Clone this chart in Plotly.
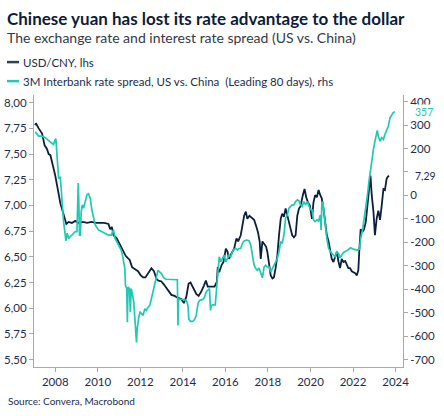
import plotly.graph_objects as go

# USD/CNY (lhs) - x in decimal years
usd_x = [2007.06, 2007.09, 2007.22, 2007.38, 2007.5, 2007.61, 2007.69, 2007.77, 2007.85, 2007.92,
         2008.0, 2008.08, 2008.16, 2008.24, 2008.31, 2008.39, 2008.47, 2008.52, 2008.63, 2008.78,
         2008.94, 2009.1, 2009.3, 2009.5, 2009.7, 2009.9, 2010.1, 2010.3, 2010.5, 2010.58,
         2010.66, 2010.74, 2010.89, 2010.99, 2011.1, 2011.2, 2011.31, 2011.4, 2011.5, 2011.61,
         2011.74, 2011.89, 2012.02, 2012.13, 2012.24, 2012.36, 2012.52, 2012.64, 2012.75, 2012.83,
         2012.99, 2013.11, 2013.22, 2013.33, 2013.46, 2013.61, 2013.77, 2013.92, 2014.05, 2014.16,
         2014.27, 2014.36, 2014.47, 2014.63, 2014.74, 2014.86, 2014.99, 2015.08, 2015.17, 2015.3,
         2015.49, 2015.6, 2015.64, 2015.71, 2015.82, 2015.91, 2016.02, 2016.1, 2016.17, 2016.28,
         2016.41, 2016.52, 2016.6, 2016.72, 2016.8, 2016.88, 2016.96, 2017.03, 2017.13, 2017.24,
         2017.35, 2017.46, 2017.53, 2017.61, 2017.66, 2017.74, 2017.82, 2017.91, 2017.97, 2018.05,
         2018.13, 2018.21, 2018.28, 2018.36, 2018.44, 2018.52, 2018.6, 2018.67, 2018.75, 2018.83,
         2018.91, 2018.99, 2019.07, 2019.14, 2019.22, 2019.3, 2019.38, 2019.46, 2019.53, 2019.64,
         2019.72, 2019.8, 2019.88, 2019.97, 2020.07, 2020.14, 2020.22, 2020.3, 2020.38, 2020.46,
         2020.53, 2020.61, 2020.69, 2020.77, 2020.85, 2020.93, 2021.0, 2021.08, 2021.16, 2021.24,
         2021.32, 2021.39, 2021.47, 2021.55, 2021.63, 2021.71, 2021.78, 2021.86, 2021.94, 2022.02,
         2022.1, 2022.18, 2022.25, 2022.3, 2022.36, 2022.44, 2022.52, 2022.6, 2022.68, 2022.77,
         2022.82, 2022.88, 2022.96, 2023.03, 2023.11, 2023.19, 2023.27, 2023.35, 2023.43, 2023.5,
         2023.58, 2023.64, 2023.69]
usd_cny = [7.78, 7.80, 7.75, 7.70, 7.585, 7.55, 7.50, 7.49, 7.42, 7.37,
           7.29, 7.20, 7.10, 7.02, 6.97, 6.92, 6.86, 6.82, 6.84, 6.83,
           6.85, 6.83, 6.84, 6.83, 6.84, 6.83, 6.83, 6.83, 6.82, 6.77,
           6.79, 6.71, 6.68, 6.64, 6.60, 6.56, 6.51, 6.49, 6.47, 6.40,
           6.38, 6.36, 6.32, 6.30, 6.30, 6.34, 6.39, 6.36, 6.29, 6.27,
           6.26, 6.23, 6.20, 6.16, 6.13, 6.12, 6.10, 6.09, 6.05, 6.11,
           6.24, 6.25, 6.21, 6.14, 6.12, 6.16, 6.22, 6.27, 6.21, 6.21,
           6.21, 6.26, 6.40, 6.35, 6.42, 6.45, 6.58, 6.55, 6.48, 6.53,
           6.58, 6.68, 6.65, 6.71, 6.79, 6.90, 6.94, 6.87, 6.90, 6.88,
           6.86, 6.79, 6.74, 6.65, 6.48, 6.65, 6.63, 6.60, 6.55, 6.45,
           6.32, 6.29, 6.30, 6.39, 6.51, 6.71, 6.87, 6.92, 6.89, 6.97,
           6.91, 6.84, 6.77, 6.71, 6.69, 6.71, 6.90, 6.97, 6.99, 7.10,
           7.16, 7.08, 7.03, 7.00, 6.87, 7.03, 7.10, 7.08, 7.15, 7.10,
           7.07, 6.97, 6.84, 6.71, 6.65, 6.56, 6.48, 6.45, 6.51, 6.55,
           6.45, 6.39, 6.48, 6.45, 6.46, 6.43, 6.39, 6.39, 6.36, 6.35,
           6.34, 6.32, 6.37, 6.58, 6.77, 6.74, 6.77, 6.84, 7.03, 7.23,
           7.29, 7.10, 6.94, 6.71, 6.87, 6.95, 6.86, 7.00, 7.16, 7.15,
           7.26, 7.28, 7.29]

# 3M interbank spread US vs China, leading 80 days (rhs), bp
spr_x = [2007.06, 2007.14, 2007.22, 2007.38, 2007.53, 2007.69, 2007.81, 2007.92, 2008.0, 2008.03,
         2008.1, 2008.16, 2008.24, 2008.28, 2008.35, 2008.39, 2008.44, 2008.5, 2008.56, 2008.63,
         2008.7, 2008.78, 2008.86, 2008.94, 2009.02, 2009.05, 2009.08, 2009.11, 2009.14, 2009.18,
         2009.22, 2009.27, 2009.33, 2009.41, 2009.49, 2009.56, 2009.64, 2009.72, 2009.8, 2009.88,
         2010.03, 2010.19, 2010.35, 2010.5, 2010.63, 2010.74, 2010.81, 2010.89, 2011.0, 2011.1,
         2011.16, 2011.22, 2011.27, 2011.3, 2011.36, 2011.39, 2011.42, 2011.49, 2011.53, 2011.57,
         2011.61, 2011.69, 2011.74, 2011.78, 2011.82, 2011.85, 2011.89, 2011.94, 2011.99, 2012.05,
         2012.13, 2012.21, 2012.28, 2012.36, 2012.44, 2012.52, 2012.6, 2012.67, 2012.75, 2012.83,
         2012.91, 2012.99, 2013.07, 2013.14, 2013.22, 2013.38, 2013.53, 2013.74, 2013.77, 2013.8,
         2013.85, 2014.0, 2014.16, 2014.24, 2014.28, 2014.35, 2014.47, 2014.55, 2014.63, 2014.71,
         2014.78, 2014.94, 2015.02, 2015.1, 2015.17, 2015.25, 2015.3, 2015.33, 2015.41, 2015.52,
         2015.56, 2015.64, 2015.71, 2015.78, 2015.86, 2015.94, 2016.02, 2016.1, 2016.17, 2016.25,
         2016.33, 2016.41, 2016.49, 2016.57, 2016.64, 2016.72, 2016.8, 2016.88, 2016.99, 2017.11,
         2017.19, 2017.27, 2017.35, 2017.43, 2017.5, 2017.58, 2017.66, 2017.74, 2017.82, 2017.89,
         2017.97, 2018.05, 2018.13, 2018.21, 2018.28, 2018.36, 2018.44, 2018.52, 2018.6, 2018.67,
         2018.75, 2018.83, 2018.91, 2018.99, 2019.07, 2019.14, 2019.22, 2019.3, 2019.38, 2019.46,
         2019.53, 2019.61, 2019.69, 2019.77, 2019.85, 2019.92, 2020.0, 2020.07, 2020.14, 2020.22,
         2020.3, 2020.38, 2020.46, 2020.5, 2020.53, 2020.58, 2020.64, 2020.69, 2020.77, 2020.85,
         2020.93, 2021.0, 2021.08, 2021.16, 2021.24, 2021.32, 2021.39, 2021.47, 2021.55, 2021.68,
         2021.78, 2021.89, 2022.02, 2022.18, 2022.3, 2022.36, 2022.46, 2022.53, 2022.6, 2022.68,
         2022.75, 2022.83, 2022.89, 2022.96, 2023.03, 2023.1, 2023.14, 2023.19, 2023.27, 2023.35,
         2023.43, 2023.5, 2023.58, 2023.66, 2023.74, 2023.82, 2023.89, 2023.97]
spread = [271, 263, 253, 253, 246, 234, 224, 217, 239, 241,
          146, 74, 77, 17, -40, -111, -147, -194, -161, -183,
          -176, -169, -161, -154, -154, -40, 53, -40, -169, -169,
          -69, -40, -54, -26, 3, 7, -11, -61, -90, -126,
          -147, -154, -161, -169, -169, -147, -183, -197, -219, -233,
          -254, -283, -311, -383, -397, -540, -390, -397, -497, -397,
          -411, -454, -511, -569, -626, -569, -540, -511, -497, -504,
          -511, -483, -490, -476, -469, -440, -411, -383, -347, -319,
          -326, -333, -347, -354, -357, -357, -359, -359, -554, -440,
          -443, -443, -447, -469, -526, -537, -537, -529, -511, -461,
          -447, -443, -433, -411, -404, -397, -490, -469, -466, -466,
          -426, -311, -261, -283, -269, -254, -283, -269, -254, -261,
          -240, -229, -226, -233, -226, -226, -204, -194, -190, -193,
          -211, -254, -297, -311, -319, -309, -326, -351, -304, -297,
          -304, -304, -326, -311, -297, -283, -269, -240, -197, -204,
          -169, -97, -83, -54, -47, -40, -40, -26, -19, -23,
          -40, -47, -26, -40, -26, -40, -61, -61, -104, -111,
          -104, -109, -83, -147, -40, -26, -83, -126, -183, -226,
          -240, -247, -254, -261, -240, -247, -266, -251, -243, -237,
          -229, -223, -229, -233, -229, -183, -140, -97, -54, 3,
          60, 117, 160, 196, 231, 260, 277, 253, 231, 246,
          239, 260, 281, 296, 331, 343, 353, 357]

navy = '#0b1f3d'
teal = '#1fc9b2'
axis_grey = '#a9a9a9'
text_col = '#1c2d4c'

left_ticks = [5.50, 5.75, 6.00, 6.25, 6.50, 6.75, 7.00, 7.25, 7.50, 7.75, 8.00]
right_ticks = [-700, -600, -500, -400, -300, -200, -100, 0, 100, 200, 300, 400]
year_ticks = [2008, 2010, 2012, 2014, 2016, 2018, 2020, 2022, 2024]

fig = go.Figure()

fig.add_trace(go.Scatter(
    x=spr_x, y=spread, yaxis='y2', mode='lines',
    line=dict(color=teal, width=1.7),
    name='3M Interbank rate spread, US vs. China  (Leading 80 days), rhs'
))
fig.add_trace(go.Scatter(
    x=usd_x, y=usd_cny, mode='lines',
    line=dict(color=navy, width=1.8),
    name='USD/CNY, lhs'
))

font = 'Lato'

axis_style = dict(showgrid=False, zeroline=False, showline=True, linecolor=axis_grey, linewidth=1,
                  ticks='outside', ticklen=4, tickcolor=axis_grey, automargin=False)

fig.update_layout(
    width=444, height=416,
    margin=dict(l=34, r=41, t=95, b=49),
    plot_bgcolor='white', paper_bgcolor='white',
    separators=',.',
    showlegend=False,
    font=dict(family=font, size=11.5, color=text_col),
    xaxis=dict(range=[2007.0, 2024.35], tickvals=year_ticks,
               ticktext=[str(y) for y in year_ticks], **axis_style),
    yaxis=dict(range=[5.428, 8.075], tickvals=left_ticks, tickformat='.2f', **axis_style),
    yaxis2=dict(overlaying='y', side='right', range=[-731, 428], tickvals=right_ticks,
                ticktext=['' if t == 100 else str(t) for t in right_ticks], **axis_style),
)

# title, subtitle, legend, source
fig.add_annotation(text='<b>Chinese yuan has lost its rate advantage to the dollar</b>',
                   xref='paper', yref='paper', x=-0.078, y=1.283, xanchor='left', yanchor='middle',
                   showarrow=False, font=dict(size=17, color='#0d1c3a', family=font))
fig.add_annotation(text='The exchange rate and interest rate spread (US vs. China)',
                   xref='paper', yref='paper', x=-0.078, y=1.213, xanchor='left', yanchor='middle',
                   showarrow=False, font=dict(size=14, color='#333a45', family=font))

legend_items = [('USD/CNY, lhs', '#33404f', 1.121),
                ('3M Interbank rate spread, US vs. China  (Leading 80 days), rhs', teal, 1.051)]
for label, col, ly in legend_items:
    fig.add_shape(type='line', xref='paper', yref='paper', x0=-0.0732, x1=-0.0407, y0=ly, y1=ly,
                  line=dict(color=col, width=2.5))
    fig.add_annotation(text=label, xref='paper', yref='paper', x=-0.036, y=ly,
                       xanchor='left', yanchor='middle', showarrow=False,
                       font=dict(size=11.5, color=text_col, family=font))

fig.add_annotation(text='Source: Convera, Macrobond', xref='paper', yref='paper',
                   x=-0.075, y=-0.125, xanchor='left', yanchor='middle', showarrow=False,
                   font=dict(size=10, color=text_col, family=font))

# last-value labels
fig.add_annotation(text=f'{spread[-1]:.0f}', xref='paper', yref='y2', x=1.028, y=spread[-1],
                   xanchor='left', yanchor='middle', showarrow=False, bgcolor='white',
                   font=dict(size=10.5, color=teal, family=font))
fig.add_annotation(text=f'{usd_cny[-1]:.2f}'.replace('.', ','), xref='paper', yref='y',
                   x=1.028, y=usd_cny[-1], xanchor='left', yanchor='middle', showarrow=False,
                   bgcolor='white', font=dict(size=10.5, color=text_col, family=font))

# drop the default 8px page margin so the 444x416 figure fills the window
fig.write_html('out.html', config={'displayModeBar': False},
               post_script="document.body.style.margin='0';")
